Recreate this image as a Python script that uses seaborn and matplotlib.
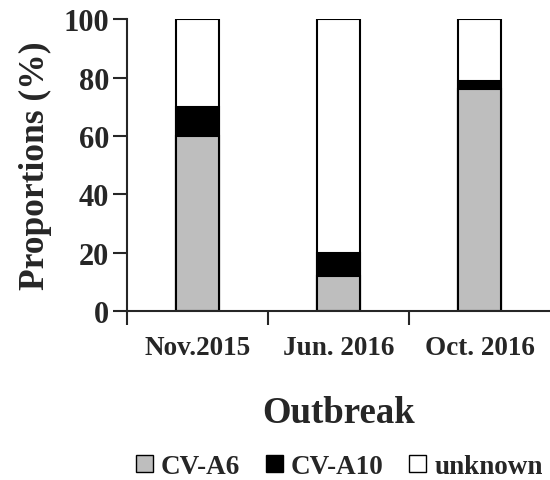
import numpy as np
import pandas as pd
from matplotlib import pyplot as plt
from matplotlib.patches import Patch
from matplotlib.ticker import FixedLocator
import seaborn as sns

outbreaks = ['Nov.2015', 'Jun. 2016', 'Oct. 2016']
cv_a6 = [60, 12, 76]
cv_a10 = [10, 8, 3]
unknown = [30, 80, 21]

sns.set_style('ticks')
plt.rcParams['font.family'] = ['Liberation Serif', 'DejaVu Serif']
plt.rcParams['font.weight'] = 'bold'
plt.rcParams['axes.linewidth'] = 1.5

df = pd.DataFrame({'Outbreak': outbreaks, 'CV-A6': cv_a6,
                   'CV-A10': cv_a10, 'unknown': unknown})
df['top'] = df['CV-A6'] + df['CV-A10'] + df['unknown']
df['mid'] = df['CV-A6'] + df['CV-A10']

fig = plt.figure(figsize=(5.5, 4.81), dpi=100)
ax = fig.add_axes([0.231, 0.351, 0.769, 0.607])

kw = dict(edgecolor='black', linewidth=1.5, width=0.31, ax=ax)
sns.barplot(data=df, x='Outbreak', y='top', color='white', saturation=1, **kw)
sns.barplot(data=df, x='Outbreak', y='mid', color='black', saturation=1, **kw)
sns.barplot(data=df, x='Outbreak', y='CV-A6', color='#bebebe', saturation=1, **kw)

ax.set_xlim(-0.5, 2.5)
ax.set_ylim(0, 100)
ax.set_yticks([0, 20, 40, 60, 80, 100])
ax.spines['right'].set_visible(False)
ax.spines['top'].set_visible(False)
ax.tick_params(axis='y', labelsize=22, length=10, width=1.5, pad=3)
ax.tick_params(axis='x', which='major', length=0, labelsize=19.5, pad=17)
ax.xaxis.set_minor_locator(FixedLocator([-0.5, 0.5, 1.5]))
ax.tick_params(axis='x', which='minor', length=10, width=1.5)
ax.set_ylabel('Proportions (%)', fontsize=25.5, fontweight='bold', labelpad=8)
ax.set_xlabel('Outbreak', fontsize=26.5, fontweight='bold', labelpad=25)

handles = [Patch(facecolor='#bebebe', edgecolor='black', label='CV-A6'),
           Patch(facecolor='black', edgecolor='black', label='CV-A10'),
           Patch(facecolor='white', edgecolor='black', label='unknown')]
fig.legend(handles=handles, loc='center', bbox_to_anchor=(0.617, 0.028), ncol=3,
           frameon=False, fontsize=19.5, handlelength=0.62, handleheight=0.62,
           handletextpad=0.3, columnspacing=0.95, borderpad=0.1)

fig.savefig('out.png', dpi=100)
